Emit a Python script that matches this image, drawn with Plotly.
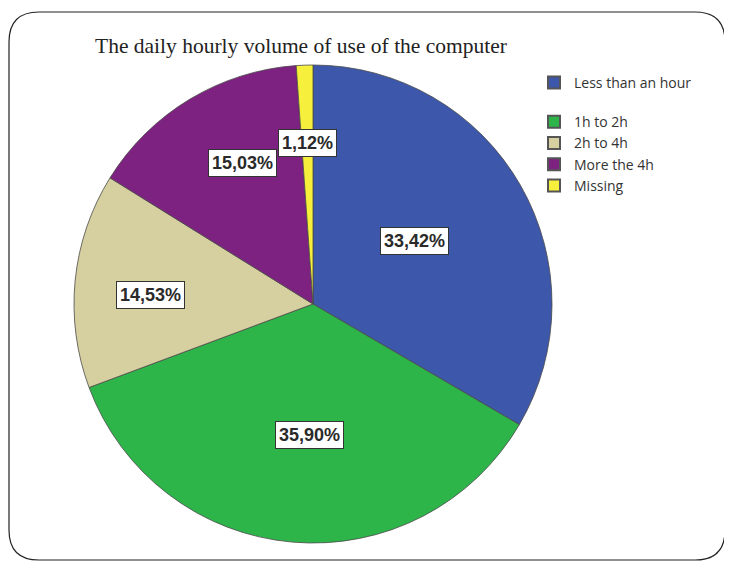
import math
import plotly.graph_objects as go

# ---- data ----
categories = ["Less than an hour", "1h to 2h", "2h to 4h", "More the 4h", "Missing"]
percentages = [33.42, 35.90, 14.53, 15.03, 1.12]
label_texts = ["33,42%", "35,90%", "14,53%", "15,03%", "1,12%"]

# ---- style ----
colors = ["#3D57AA", "#2DB54A", "#D6CF9F", "#7D2280", "#F6F03C"]
label_radius_frac = [0.50, 0.55, 0.68, 0.66, 0.675]
label_angle_offset = [-2, -3.5, -2.6, 4.4, 0]

W, H = 732, 563
OFF = 8  # page body margin offset
cx, cy, R = 313 - OFF, 304 - OFF, 239  # pixel geometry of the pie (figure coords)

fig = go.Figure()
fig.add_trace(go.Pie(
    labels=categories, values=percentages, sort=False, direction="clockwise",
    rotation=0, textinfo="none", hoverinfo="label+percent", showlegend=False,
    marker=dict(colors=colors, line=dict(color="#4a4a4a", width=0.8)),
    domain=dict(x=[(cx - R) / W, (cx + R) / W], y=[1 - (cy + R) / H, 1 - (cy - R) / H]),
))

# legend via marker-only scatter traces
for i, (cat, col) in enumerate(zip(categories, colors)):
    fig.add_trace(go.Scatter(
        x=[None], y=[None], mode="markers", name=cat,
        legendgroup="g0" if i == 0 else "g1",
        marker=dict(symbol="square", size=16, color=col, line=dict(color="#555", width=1)),
        showlegend=True,
    ))

# percentage labels (positions derived from the cumulative shares)
total = sum(percentages)
cum = 0
annotations = []
for i, (v, txt) in enumerate(zip(percentages, label_texts)):
    mid = (cum + v / 2) / total * 360 + label_angle_offset[i]
    cum += v
    f = label_radius_frac[i]
    px = cx + f * R * math.sin(math.radians(mid))
    py = cy - f * R * math.cos(math.radians(mid))
    annotations.append(dict(
        x=px / W, y=1 - py / H, xref="paper", yref="paper",
        xanchor="center", yanchor="middle",
        text="<b>" + txt + "</b>", showarrow=False,
        font=dict(family="Liberation Sans", size=18, color="#2a2a2a"),
        bgcolor="white", bordercolor="#333", borderwidth=1, borderpad=3,
    ))

# rounded frame
x0, x1, y0, y1, r = 1, 717, 4, 552, 30
def P(x, y):
    return f"{x / W:.5f},{1 - y / H:.5f}"
path = (f"M {P(x0 + r, y0)} L {P(x1 - r, y0)} Q {P(x1, y0)} {P(x1, y0 + r)} "
        f"L {P(x1, y1 - r)} Q {P(x1, y1)} {P(x1 - r, y1)} "
        f"L {P(x0 + r, y1)} Q {P(x0, y1)} {P(x0, y1 - r)} "
        f"L {P(x0, y0 + r)} Q {P(x0, y0)} {P(x0 + r, y0)} Z")

fig.update_layout(
    width=W, height=H, margin=dict(l=0, r=0, t=0, b=0),
    paper_bgcolor="white", plot_bgcolor="white",
    title=dict(text="The daily hourly volume of use of the computer",
               x=(95 - OFF) / W, xanchor="left", y=1 - (45 - OFF) / H, yanchor="middle",
               font=dict(family="Liberation Serif", size=21.5, color="#222")),
    xaxis=dict(visible=False), yaxis=dict(visible=False),
    legend=dict(x=(548 - OFF - 14) / W, y=1 - (82 - OFF - 15) / H, xanchor="left", yanchor="top",
                font=dict(family="Open Sans", size=14, color="#333"),
                tracegroupgap=18, itemsizing="constant", bgcolor="rgba(0,0,0,0)"),
    annotations=annotations,
    shapes=[dict(type="path", path=path, xref="paper", yref="paper",
                 line=dict(color="#222", width=1.2))],
)

fig.write_html("out.html")
